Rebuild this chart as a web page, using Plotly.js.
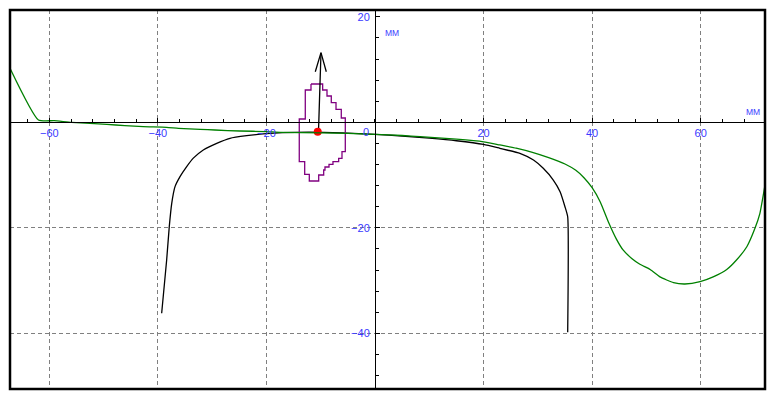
<!DOCTYPE html>
<html>
<head>
<meta charset="utf-8">
<script src="https://cdn.plot.ly/plotly-3.0.1.min.js"></script>
<style>html,body{margin:0;padding:0;background:#fff;}#chart{width:772px;height:400px;}</style>
</head>
<body>
<div id="chart"></div>
<script>
// ---- data (units: mm) ----
const green_x = [-67.24, -62.0, -59.1, -55.9, -52.5, -49.4, -46.1, -42.7, -38.4, -36.2, -32.2, -29.5, -24.9, -20, -17.5, -10, -5, 0, 5, 8.3, 15, 20, 23, 26, 29, 32, 35, 37, 38.5, 40, 41.5, 43, 44.5, 45.7, 47.3, 48.8, 50.7, 52.5, 55.0, 57.1, 59.9, 62.3, 64.8, 66.6, 68.5, 70.0, 70.9, 71.7, 71.85];
const green_y = [10.25, 0.44, 0.3, 0.0, -0.19, -0.38, -0.64, -0.83, -0.95, -1.14, -1.33, -1.46, -1.65, -1.75, -1.9, -2.0, -2.1, -2.3, -2.5, -2.73, -3.2, -3.7, -4.3, -4.9, -5.7, -6.7, -7.9, -9.1, -10.5, -12.4, -15.1, -18.9, -22.2, -24.2, -25.8, -26.9, -27.9, -29.3, -30.4, -30.65, -30.2, -29.3, -27.9, -26.1, -23.6, -20.1, -17.3, -12.8, -11.9];

const black_x = [-39.30, -38.38, -37.9, -37.45, -36.84, -35.92, -34.69, -33.47, -31.63, -29.16, -26.71, -23.64, -20, -17, -12, -6, 0, 5, 10, 15, 20, 23.0, 26.7, 29.2, 31.0, 32.85, 34.1, 35.0, 35.5, 35.5];
const black_y = [-36.2, -26.1, -19.8, -15.4, -12.2, -10.3, -8.4, -6.8, -5.25, -3.98, -3.03, -2.54, -2.15, -1.95, -1.85, -2.0, -2.3, -2.6, -3.0, -3.5, -4.2, -4.93, -5.88, -7.15, -8.72, -10.94, -13.16, -16.0, -17.9, -39.8];

const contour_x = [-11.79, -9.64, -9.64, -8.84, -8.84, -8.05, -8.05, -7.18, -7.18, -6.21, -6.21, -5.47, -5.47, -6.08, -6.08, -6.69, -6.69, -7.74, -7.74, -8.47, -8.47, -9.21, -9.21, -9.45, -9.45, -10.37, -10.37, -12.10, -12.10, -12.95, -12.95, -13.95, -13.95, -12.84, -12.84, -11.79, -11.79];
const contour_y = [7.26, 7.26, 6.12, 6.12, 4.99, 4.99, 3.72, 3.72, 2.46, 2.46, 0.82, 0.82, -5.57, -5.57, -6.82, -6.82, -7.47, -7.47, -7.96, -7.96, -8.47, -8.47, -9.04, -9.04, -9.99, -9.99, -11.13, -11.13, -9.86, -9.86, -7.47, -7.47, 0.63, 0.63, 6.12, 6.12, 7.26];

const arrow_x = [-10.41, -9.95, null, -11.0, -9.95, -8.97];
const arrow_y = [-1.78, 13.2, null, 9.59, 13.2, 9.59];

const point_x = [-10.55];
const point_y = [-1.78];

const x_ticks = [-60, -40, -20, 20, 40, 60];
const y_ticks = [-40, -20, 20];
const y_grid = [-40, -20];
const unit_label = 'MM';
const origin_label = '0';

// ---- layout ----
const xRange = [-67.24, 71.85];
const yRange = [-50.56, 21.29];
const blue = '#3a3aff';
const gridCol = '#808080';
const tickFont = {family: 'Liberation Sans, Arial, sans-serif', size: 11, color: blue};
const unitFont = {family: 'Liberation Sans, Arial, sans-serif', size: 8.5, color: blue};

const traces = [
  {x: black_x, y: black_y, mode: 'lines', line: {color: '#000000', width: 1.3, shape: 'spline', smoothing: 0.5}, hoverinfo: 'skip'},
  {x: green_x, y: green_y, mode: 'lines', line: {color: '#008000', width: 1.3, shape: 'spline', smoothing: 0.5}, hoverinfo: 'skip', yaxis: 'y2'},
  {x: contour_x, y: contour_y, mode: 'lines', line: {color: '#800080', width: 1.3}, hoverinfo: 'skip'},
  {x: arrow_x, y: arrow_y, mode: 'lines', line: {color: '#000000', width: 1.3}, hoverinfo: 'skip', connectgaps: false},
  {x: point_x, y: point_y, mode: 'markers', marker: {color: '#ff0000', size: 8}, hoverinfo: 'skip'}
];

const xPos = (0 - yRange[0]) / (yRange[1] - yRange[0]);
const yPos = (0 - xRange[0]) / (xRange[1] - xRange[0]);

const layout = {
  width: 772, height: 400,
  margin: {l: 10, r: 7, t: 10, b: 11, pad: 0},
  paper_bgcolor: '#ffffff', plot_bgcolor: '#ffffff',
  showlegend: false,
  xaxis: {
    range: xRange, anchor: 'free', position: xPos,
    showline: true, linecolor: '#000', linewidth: 1,
    zeroline: false,
    tickmode: 'array', tickvals: x_ticks,
    ticks: 'inside', ticklen: 4, tickcolor: '#000', tickwidth: 1,
    tickfont: tickFont,
    showgrid: true, gridcolor: gridCol, griddash: '4px,3px', gridwidth: 1,
    minor: {dtick: 4, tick0: 0, ticks: 'inside', ticklen: 3, tickcolor: '#000', showgrid: false}
  },
  yaxis: {
    range: yRange, anchor: 'free', position: yPos,
    showline: true, linecolor: '#000', linewidth: 1,
    zeroline: false,
    tickmode: 'array', tickvals: y_ticks,
    ticks: 'inside', ticklen: 4, tickcolor: '#000', tickwidth: 1,
    tickfont: tickFont, ticklabelstandoff: 3,
    showgrid: false,
    minor: {dtick: 4, tick0: 0, ticks: 'inside', ticklen: 3, tickcolor: '#000', showgrid: false}
  },
  yaxis2: {
    range: yRange, overlaying: 'y', anchor: 'x',
    showline: false, zeroline: false, showticklabels: false, ticks: '',
    tickmode: 'array', tickvals: y_grid,
    showgrid: true, gridcolor: gridCol, griddash: '4px,3px', gridwidth: 1
  },
  shapes: [
    {type: 'rect', xref: 'paper', yref: 'paper', x0: 0, x1: 1, y0: 0, y1: 1, line: {color: '#000', width: 2.5}, layer: 'above'}
  ],
  annotations: [
    {xref: 'x', yref: 'y', x: 0, y: 0, text: origin_label, showarrow: false, xanchor: 'right', yanchor: 'middle', xshift: -4, yshift: -10, font: tickFont},
    {xref: 'x', yref: 'y', x: 0, y: 16.9, text: unit_label, showarrow: false, xanchor: 'left', yanchor: 'middle', xshift: 8, font: unitFont},
    {xref: 'x', yref: 'y', x: 69.7, y: 1.95, text: unit_label, showarrow: false, xanchor: 'center', yanchor: 'middle', font: unitFont}
  ]
};

Plotly.newPlot('chart', traces, layout, {staticPlot: true, displayModeBar: false});
</script>
</body>
</html>
